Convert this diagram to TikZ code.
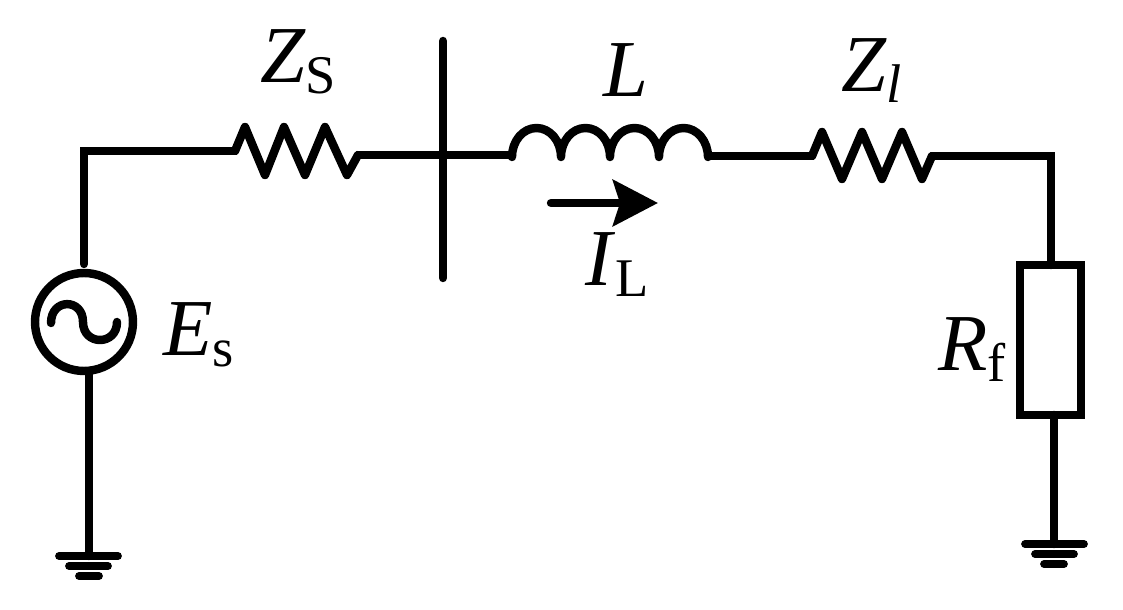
\documentclass[tikz,border=0pt]{standalone}
\usepackage{fontspec}
\setmainfont{Liberation Serif}
\usetikzlibrary{arrows.meta}
\newcommand{\sublbl}[2]{\textit{#1}\raisebox{-0.22cm}{\fontsize{31}{31}\selectfont #2}}
\tikzset{
	wire/.style={line width=4.8pt, line cap=round, line join=miter},
	zigzag/.style={line width=4.8pt, line cap=round, line join=round},
	gndbar/.style={line width=4.4pt, line cap=round},
	lbl/.style={inner sep=0pt, anchor=base west, font=\fontsize{46}{46}\selectfont},
}
\begin{document}
\begin{tikzpicture}[x=0.02cm, y=0.02cm, >={Stealth[length=0.9cm, width=0.92cm, inset=0.14cm]}]
	\useasboundingbox (0,0) rectangle (1123,609);
	% coordinates
	\coordinate (srcTop) at (84,345);
	\coordinate (srcCorner) at (84,458);
	\coordinate (zsLeft) at (235,458);
	\coordinate (zsRight) at (358,454);
	\coordinate (busTop) at (443,568);
	\coordinate (busBottom) at (443,331);
	\coordinate (lLeft) at (512,454);
	\coordinate (lRight) at (708,453);
	\coordinate (zlLeft) at (812,453);
	\coordinate (zlRight) at (932,453);
	\coordinate (lineCorner) at (1051,453);
	\coordinate (arrowLeft) at (551,406);
	\coordinate (arrowRight) at (658,406);
	\coordinate (srcBottom) at (89,238);
	\coordinate (gndLeft) at (89,53);
	\coordinate (rfBottom) at (1054,194);
	\coordinate (gndRight) at (1054,65);
	% source
	\node[circle, draw, line width=4.8pt, minimum size=1.96cm, inner sep=0pt, outer sep=0pt] (src) at (84,287) {};
	\draw[wire] (51,286) .. controls (51,311) and (83,311) .. (83,287)
		.. controls (83,263) and (117,263) .. (117,287);
	% fault resistance
	\node[rectangle, draw, line width=4.8pt, minimum width=1.22cm, minimum height=3cm, inner sep=0pt, outer sep=0pt] (rf) at (1050.5,269) {};
	% wires
	\draw[wire] (srcTop) -- (srcCorner) -- (zsLeft);
	\draw[wire] (zsRight) -- (lLeft);
	\draw[wire] (lRight) -- (zlLeft);
	\draw[wire] (zlRight) -- (lineCorner) -- (lineCorner |- rf.north);
	\draw[wire] (srcBottom) -- (gndLeft);
	\draw[wire] (rfBottom) -- (gndRight);
	% bus
	\draw[wire] (busTop) -- (busBottom);
	% Z_S
	\draw[zigzag] (zsLeft) -- (245,482) -- (265,434) -- (284,482) -- (305,434) -- (325,482) -- (347,434) -- (zsRight);
	% L
	\draw[zigzag] (512,452) arc[start angle=180, end angle=0, x radius=24.5, y radius=29]
		arc[start angle=180, end angle=0, x radius=24.5, y radius=29]
		arc[start angle=180, end angle=0, x radius=24.5, y radius=29]
		arc[start angle=180, end angle=0, x radius=24.5, y radius=29];
	% Z_l
	\draw[zigzag] (zlLeft) -- (822,477) -- (842,430) -- (862,477) -- (882,430) -- (902,477) -- (922,430) -- (zlRight);
	% current arrow
	\draw[->, wire] (arrowLeft) -- (arrowRight);
	% grounds
	\draw[gndbar] (59,53) -- (118,53);
	\draw[gndbar] (69,43) -- (108,43);
	\draw[gndbar] (79,33) -- (99,33);
	\draw[gndbar] (1025,65) -- (1084,65);
	\draw[gndbar] (1035,55) -- (1074,55);
	\draw[gndbar] (1044,45) -- (1064,45);
	% labels
	\node[lbl] (zsLabel) at (260,526) {\sublbl{Z}{S}};
	\node[lbl] (lLabel) at (603,512) {\textit{L}};
	\node[lbl] (zlLabel) at (841,517) {\sublbl{Z}{\textit{l}}};
	\node[lbl] (ilLabel) at (585,323) {\sublbl{I}{L}};
	\node[lbl] (esLabel) at (163,253) {\sublbl{E}{s}};
	\node[lbl] (rfLabel) at (938,238) {\sublbl{R}{f}};
\end{tikzpicture}
\end{document}
